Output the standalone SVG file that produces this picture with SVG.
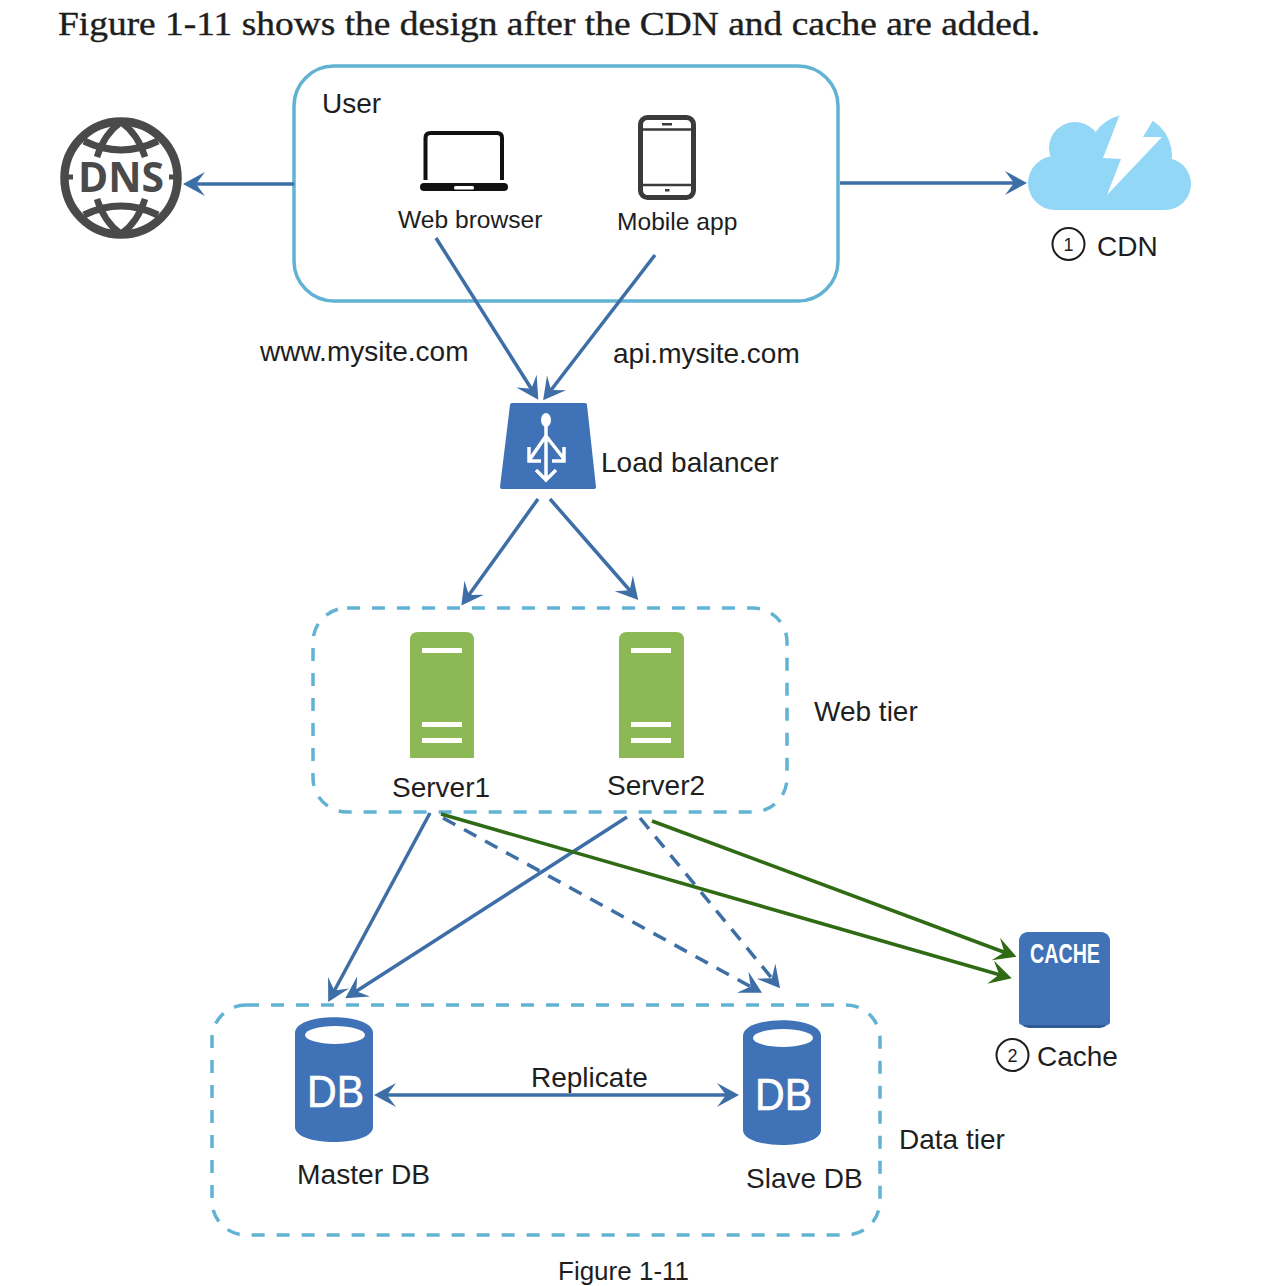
<svg xmlns="http://www.w3.org/2000/svg" width="1266" height="1286" viewBox="0 0 1266 1286">
<style>
text{font-family:"Liberation Sans",Arial,sans-serif;fill:#1e1e1e;font-size:28px}
.sm{font-size:24.600px}
.box{fill:none;stroke:#62b2d3;stroke-width:3.5}
.dash{stroke-dasharray:13 12}
.a{fill:none;stroke:#3d6ea6;stroke-width:3.5;marker-end:url(#ab)}
.d{stroke-dasharray:14 10}
.g{fill:none;stroke:#2f6b14;stroke-width:3.5;marker-end:url(#ag)}
.blue{fill:#3f72b6}
.srv{fill:#8cb956}
.w{fill:#fff}
.num{fill:none;stroke:#1e1e1e;stroke-width:2}
.ic{fill:none;stroke:#fff;stroke-width:3.5}
.dns{fill:none;stroke:#4a4a4a}
.dbt{font-size:44px;fill:#fff;stroke:#fff;stroke-width:.6}
.cl{fill:#93d7f7}
</style>
<defs>
<marker id="ab" markerUnits="userSpaceOnUse" markerWidth="24" markerHeight="26" refX="14" refY="12" orient="auto-start-reverse"><path d="M0,0 L22,12 L0,24 L9,12 Z" fill="#3d6ea6"/></marker>
<marker id="ag" markerUnits="userSpaceOnUse" markerWidth="24" markerHeight="26" refX="14" refY="12" orient="auto-start-reverse"><path d="M0,0 L22,12 L0,24 L9,12 Z" fill="#2f6b14"/></marker>
</defs>
<rect width="1266" height="1286" fill="#fff"/>
<text x="58" y="35" textLength="982" lengthAdjust="spacingAndGlyphs" style="font-family:'Liberation Serif',serif;font-size:34px;stroke:#1e1e1e;stroke-width:.4">Figure 1-11 shows the design after the CDN and cache are added.</text>

<g id="user-box">
<rect class="box" x="294" y="66" width="544" height="235" rx="40"/>
<text x="322" y="113">User</text>
</g>
<g id="web-browser">
<path d="M425.500 180V138Q425.500 133 430.500 133H497Q502 133 502 138V180" fill="none" stroke="#111" stroke-width="4"/>
<rect x="420" y="183" width="88" height="8" rx="4" fill="#111"/>
<rect x="454" y="186" width="20" height="3.500" rx="1.500" class="w"/>
<text class="sm" x="398" y="228">Web browser</text>
</g>
<g id="mobile-app">
<rect x="640.500" y="117.500" width="53" height="80" rx="7" fill="none" stroke="#3a3a3a" stroke-width="5"/>
<path d="M640 129.500H694M640 185H694" stroke="#3a3a3a" stroke-width="2.500"/>
<rect x="662" y="123" width="10" height="2.500" fill="#3a3a3a"/>
<rect x="665" y="189" width="4.500" height="2.500" fill="#3a3a3a"/>
<text class="sm" x="617" y="230">Mobile app</text>
</g>
<g id="dns">
<circle class="dns" cx="121" cy="178" r="56.500" stroke-width="8.500"/>
<path class="dns" stroke-width="7" d="M84 141Q121 159 158 141M84 215Q121 197 158 215"/>
<path class="dns" stroke-width="6.500" d="M121 122Q104 134 97 157M121 122Q138 134 145 157M121 234Q104 222 97 199M121 234Q138 222 145 199"/>
<path class="dns" stroke-width="5" d="M62 177H73M169 177H180"/>
<text x="78" y="192" textLength="86" lengthAdjust="spacingAndGlyphs" style="font-size:41px;font-weight:bold;fill:#4a4a4a;font-family:'Open Sans','Liberation Sans',sans-serif">DNS</text>
</g>
<g id="cdn">
<circle class="cl" cx="1055" cy="183" r="27"/>
<circle class="cl" cx="1075" cy="148" r="26"/>
<circle class="cl" cx="1130" cy="156" r="42"/>
<circle class="cl" cx="1165" cy="184" r="26"/>
<rect class="cl" x="1055" y="145" width="110" height="65"/>
<polygon class="w" points="1120,114 1103,158 1121,159 1107,195 1162,137 1143,137 1155,117 1162,100 1122,100"/>
<circle class="num" cx="1068.500" cy="244" r="16"/>
<text x="1068.500" y="251" text-anchor="middle" style="font-size:18px">1</text>
<text x="1097" y="256">CDN</text>
</g>
<g id="load-balancer">
<path class="blue" stroke="#3f72b6" stroke-width="4" stroke-linejoin="round" d="M512 405H585L594 487H502Z"/>
<ellipse class="w" cx="546" cy="420" rx="5" ry="7"/>
<path class="ic" d="M546 426V478M546 436L530 459M546 436L564 459M529 447V461H541M564 447V461H552M536 470L546 480L556 470"/>
<text x="601" y="472">Load balancer</text>
</g>
<g id="web-tier">
<rect class="box dash" x="313" y="608" width="474" height="204" rx="34"/>
<text x="814" y="721">Web tier</text>
</g>
<g id="server1">
<path class="srv" d="M410 758V640Q410 632 418 632H466Q474 632 474 640V758Z"/>
<rect class="w" x="422" y="648" width="40" height="5"/><rect class="w" x="422" y="722" width="40" height="5"/><rect class="w" x="422" y="738" width="40" height="5"/>
<text x="392" y="797">Server1</text>
</g>
<g id="server2">
<path class="srv" d="M619 758V640Q619 632 627 632H676Q684 632 684 640V758Z"/>
<rect class="w" x="631" y="648" width="40" height="5"/><rect class="w" x="631" y="722" width="40" height="5"/><rect class="w" x="631" y="738" width="40" height="5"/>
<text x="607" y="795">Server2</text>
</g>
<g id="data-tier">
<rect class="box dash" x="212" y="1005" width="668" height="230" rx="34"/>
<text x="899" y="1149">Data tier</text>
</g>
<g id="master-db">
<path class="blue" d="M295 1033C295 1012 373 1012 373 1033V1127C373 1147 295 1147 295 1127Z"/>
<ellipse class="w" cx="335" cy="1035" rx="30" ry="9"/>
<text class="dbt" x="307" y="1107" textLength="57" lengthAdjust="spacingAndGlyphs">DB</text>
<text x="297" y="1184" style="font-size:28.200px">Master DB</text>
</g>
<g id="slave-db">
<path class="blue" d="M743 1036C743 1015 821 1015 821 1036V1130C821 1150 743 1150 743 1130Z"/>
<ellipse class="w" cx="783" cy="1038" rx="30" ry="9"/>
<text class="dbt" x="755" y="1110" textLength="57" lengthAdjust="spacingAndGlyphs">DB</text>
<text x="746" y="1188" style="font-size:28px">Slave DB</text>
</g>
<g id="cache">
<rect x="1019" y="932" width="91" height="96" rx="10" fill="#2f5c94"/>
<path class="blue" d="M1019 1022V942Q1019 932 1029 932H1100Q1110 932 1110 942V1022Q1110 1025 1106 1025H1023Q1019 1025 1019 1022Z"/>
<text x="1030" y="963" textLength="70" lengthAdjust="spacingAndGlyphs" style="font-size:27px;font-weight:bold;fill:#fff">CACHE</text>
<circle class="num" cx="1012.500" cy="1055" r="16"/>
<text x="1012.500" y="1062" text-anchor="middle" style="font-size:18px">2</text>
<text x="1037" y="1066">Cache</text>
</g>

<g id="connectors">
<path class="a" d="M294 184H191"/>
<path class="a" d="M840 183H1019"/>
<path class="a" d="M436 238L534 393"/>
<path class="a" d="M655 255L548 394"/>
<path class="a" d="M538 499L466 599"/>
<path class="a" d="M550 499L633 594"/>
<path class="a" d="M430 813L332 995"/>
<path class="a" d="M627 817L352 994"/>
<path class="a d" d="M443 818L755 989"/>
<path class="a d" d="M640 818L775 982"/>
<path class="g" d="M441 814L1004 976"/>
<path class="g" d="M652 821L1009 954"/>
<path class="a" style="marker-start:url(#ab)" d="M382 1095H731"/>
</g>
<text x="531" y="1087">Replicate</text>
<text x="260" y="361">www.mysite.com</text>
<text x="613" y="363">api.mysite.com</text>
<text x="558" y="1280" style="font-size:26px">Figure 1-11</text>
</svg>
